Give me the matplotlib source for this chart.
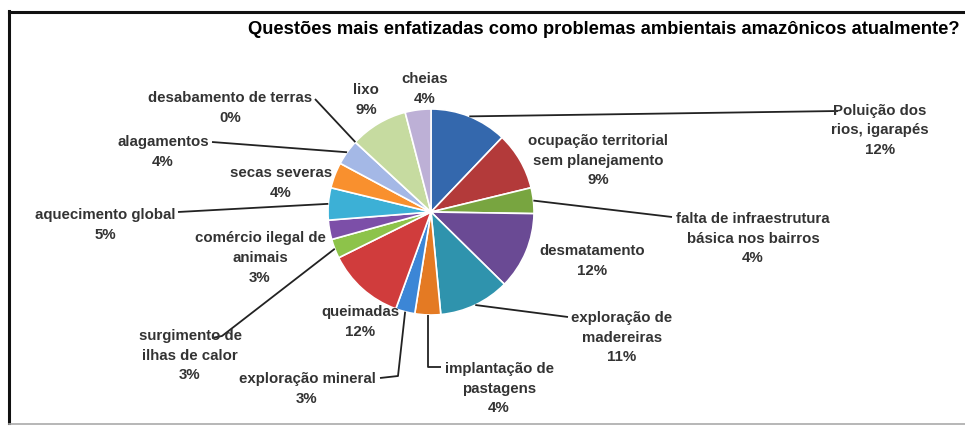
import math

import matplotlib
matplotlib.use("Agg")
import matplotlib.pyplot as plt
from matplotlib.lines import Line2D

W, H = 965, 427

TITLE = "Questões mais enfatizadas como problemas ambientais amazônicos atualmente?"

# slices, clockwise from 12 o'clock
labels = [
    "Poluição dos\nrios, igarapés",
    "ocupação territorial\nsem planejamento",
    "falta de infraestrutura\nbásica nos bairros",
    "desmatamento",
    "exploração de\nmadereiras",
    "implantação de\npastagens",
    "exploração mineral",
    "queimadas",
    "surgimento de\nilhas de calor",
    "comércio ilegal de\nanimais",
    "aquecimento global",
    "secas severas",
    "alagamentos",
    "desabamento de terras",
    "lixo",
    "cheias",
]
percent = [12, 9, 4, 12, 11, 4, 3, 12, 3, 3, 5, 4, 4, 0, 9, 4]
colors = [
    "#3468ad", "#b33a3a", "#78a540", "#6a4a94", "#2f93ad", "#e47a23",
    "#3c86d6", "#d03c3c", "#8dc34a", "#7c4fa8", "#3cb0d6", "#f9902e",
    "#a4b8e6", "#e8a8a8", "#c6dba0", "#bdb0d6",
]

# label block centres (px from top-left)
label_pos = [
    (880, 130), (598, 161), (753, 239), (592, 261), (622, 338), (499, 389),
    (307, 389), (360, 322), (190, 356), (260, 258), (105, 225), (281, 183),
    (163, 152), (230, 108), (366, 100), (425, 89),
]
# where the leader line meets the text (px)
leader_end = {
    0: [(838, 112)],
    2: [(672, 218)],
    4: [(568, 318)],
    5: ["drop", (441, 368)],
    6: [(398, 377), (380, 379)],
    8: [(222, 337), (212, 339)],
    10: [(178, 213)],
    12: [(212, 143)],
    13: [(315, 100)],
}

PIE_C = (431, 213)
PIE_R = 103

FONT = ["Liberation Sans", "DejaVu Sans"]


def fy(y):
    return H - y


fig = plt.figure(figsize=(W / 100, H / 100), dpi=100)
fig.patch.set_facecolor("white")
ax = fig.add_axes([0, 0, 1, 1])

wedges, _ = ax.pie(
    percent,
    colors=colors,
    startangle=90,
    counterclock=False,
    center=(PIE_C[0], fy(PIE_C[1])),
    radius=PIE_R,
    wedgeprops=dict(edgecolor="white", linewidth=1.2),
    frame=True,
)
ax.set_xlim(0, W)
ax.set_ylim(0, H)
ax.set_aspect("equal")
ax.axis("off")

for i, (lab, pct) in enumerate(zip(labels, percent)):
    x, y = label_pos[i]
    ax.text(x, fy(y), f"{lab}\n{pct}%", ha="center", va="center",
            fontsize=10.8, fontweight="bold", color="#333333",
            family=FONT, linespacing=1.5)

    if i in leader_end:
        w = wedges[i]
        mid = math.radians((w.theta1 + w.theta2) / 2)
        ax_x = PIE_C[0] + PIE_R * math.cos(mid)
        ax_y = fy(PIE_C[1]) + PIE_R * math.sin(mid)
        xs, ys = [ax_x], [ax_y]
        pts = leader_end[i]
        if pts[0] == "drop":
            # straight down from the slice, then elbow to the text
            xs.append(ax_x)
            ys.append(fy(pts[1][1]))
            pts = pts[1:]
        for px, py in pts:
            xs.append(px)
            ys.append(fy(py))
        ax.plot(xs, ys, color="#222222", lw=1.3, solid_capstyle="butt")

ax.text(960, fy(30), TITLE, ha="right", va="center", fontsize=13.2,
        fontweight="bold", color="black", family=FONT)

# outer frame
fig.add_artist(Line2D([9 / W, 9 / W], [1 - 12 / H, 1 - 424 / H],
                      color="#111111", lw=2.2, transform=fig.transFigure))
fig.add_artist(Line2D([9 / W, 1], [1 - 13 / H, 1 - 13 / H],
                      color="#111111", lw=2.2, transform=fig.transFigure))
fig.add_artist(Line2D([9 / W, 1], [1 - 425 / H, 1 - 425 / H],
                      color="#aaaaaa", lw=1.2, transform=fig.transFigure))

fig.savefig("out.png", dpi=100)
